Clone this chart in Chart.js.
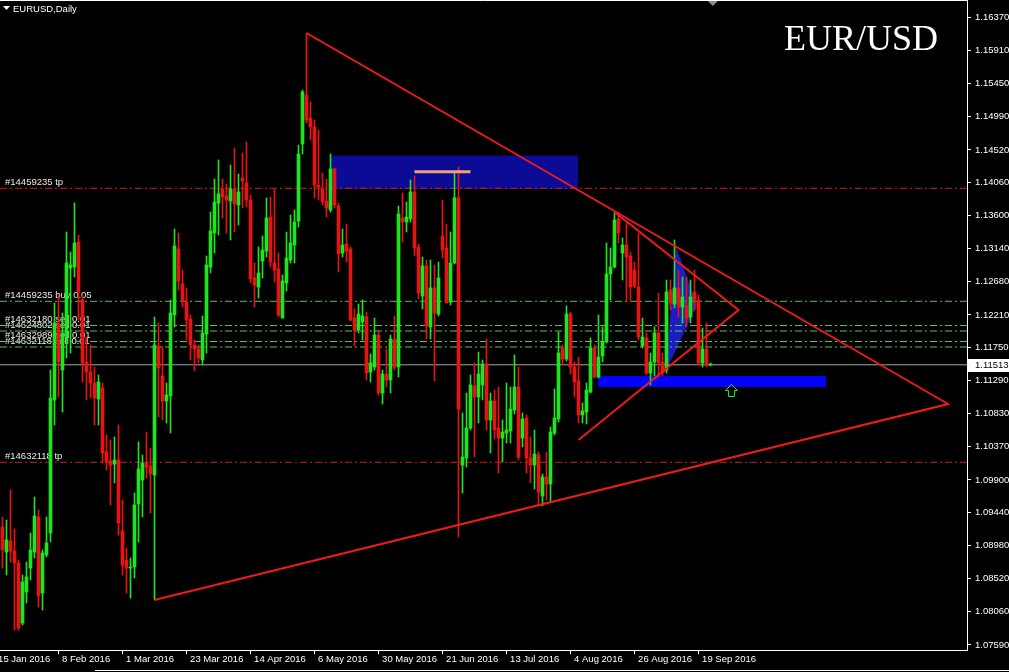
<!DOCTYPE html>
<html lang="en">
<head>
  <meta charset="UTF-8">
  <title>EURUSD,Daily</title>
  <style>
    html, body { margin: 0; padding: 0; background: #000; }
    #wrap { width: 1009px; height: 672px; }
  </style>
  <script src="https://cdn.jsdelivr.net/npm/chart.js@4"></script>
</head>
<body>
  <div id="wrap"><canvas id="chart" width="1009" height="672"></canvas></div>
  <script>
    // daily bars, first one is 18 Jan 2016
    const open = [
      1.09242, 1.08892, 1.09046, 1.08906, 1.08738, 1.07898, 1.08332, 1.08668, 1.08892, 1.09382,
      1.08318, 1.0885, 1.09158, 1.1102, 1.12098, 1.1144, 1.11902, 1.12868, 1.12882, 1.13232,
      1.1242, 1.11552, 1.11412, 1.11258, 1.11034, 1.11188, 1.10292, 1.10166, 1.10124, 1.1018,
      1.09186, 1.0878, 1.08668, 1.08682, 1.09564, 1.099, 1.10152, 1.10096, 1.0997, 1.11776,
      1.11356, 1.11006, 1.11076, 1.1221, 1.13134, 1.12644, 1.12392, 1.12154, 1.1179, 1.11734,
      1.1158, 1.11944, 1.12882, 1.13358, 1.13778, 1.13974, 1.13876, 1.13806, 1.13974, 1.1375,
      1.14128, 1.14058, 1.1382, 1.12728, 1.12602, 1.12966, 1.13106, 1.13582, 1.12938, 1.12854,
      1.12168, 1.12658, 1.1298, 1.1319, 1.13526, 1.14604, 1.1529, 1.14968, 1.14842, 1.1403,
      1.13974, 1.13806, 1.1368, 1.14254, 1.13736, 1.13078, 1.13204, 1.13134, 1.12168, 1.12,
      1.12112, 1.12182, 1.11412, 1.11482, 1.1193, 1.11118, 1.11384, 1.113, 1.11874, 1.11482,
      1.13568, 1.13512, 1.13554, 1.13932, 1.13162, 1.12476, 1.12896, 1.12042, 1.12588, 1.12224,
      1.13316, 1.13148, 1.12392, 1.12938, 1.1385, 1.1011, 1.10208, 1.10628, 1.11216, 1.11062,
      1.1123, 1.11524, 1.1074, 1.11006, 1.10628, 1.10488, 1.10558, 1.10586, 1.1088, 1.11202,
      1.10488, 1.10768, 1.10208, 1.1011, 1.1025, 1.09676, 1.09942, 1.09844, 1.10558, 1.10754,
      1.11748, 1.11594, 1.12224, 1.11482, 1.11286, 1.1081, 1.10852, 1.11132, 1.11748, 1.11342,
      1.11636, 1.11832, 1.12784, 1.12882, 1.13554, 1.13078, 1.1319, 1.13036, 1.1284, 1.12602,
      1.11776, 1.11888, 1.11398, 1.11552, 1.11958, 1.11552, 1.1144, 1.1256, 1.12364, 1.12588,
      1.12322, 1.12336, 1.12182, 1.12532, 1.1242, 1.11538, 1.11734, 1.1151
    ];
    const high = [
      1.09382, 1.0934, 1.0976, 1.09214, 1.0878, 1.0857, 1.08752, 1.09158, 1.09662, 1.0948,
      1.0892, 1.09382, 1.1144, 1.12378, 1.1249, 1.12238, 1.13372, 1.13092, 1.13778, 1.1333,
      1.1249, 1.11902, 1.1179, 1.11482, 1.1137, 1.11258, 1.1053, 1.1046, 1.10502, 1.1067,
      1.0962, 1.08948, 1.08808, 1.09718, 1.10432, 1.1025, 1.10572, 1.10348, 1.12182, 1.12098,
      1.11762, 1.11258, 1.1242, 1.13414, 1.13358, 1.1284, 1.12588, 1.1221, 1.1186, 1.1179,
      1.12196, 1.13036, 1.13652, 1.14114, 1.1438, 1.14114, 1.14044, 1.1431, 1.14548, 1.14184,
      1.14478, 1.14632, 1.1389, 1.12938, 1.13162, 1.13316, 1.13848, 1.13862, 1.13974, 1.13078,
      1.1277, 1.13372, 1.1361, 1.1368, 1.1459, 1.1536, 1.16158, 1.15192, 1.1494, 1.148,
      1.14198, 1.14114, 1.14464, 1.14268, 1.13778, 1.13414, 1.13484, 1.13162, 1.12294, 1.12364,
      1.1242, 1.12252, 1.11664, 1.12168, 1.12, 1.1144, 1.11734, 1.1193, 1.12196, 1.13736,
      1.13918, 1.13792, 1.141, 1.14156, 1.13204, 1.13022, 1.1298, 1.1298, 1.1291, 1.12952,
      1.1382, 1.13484, 1.13372, 1.14212, 1.14282, 1.10838, 1.11118, 1.1137, 1.11538, 1.11692,
      1.1158, 1.11874, 1.11118, 1.1116, 1.11202, 1.1074, 1.11258, 1.11202, 1.1165, 1.11482,
      1.10838, 1.1081, 1.10502, 1.106, 1.10292, 1.09984, 1.10292, 1.10642, 1.11174, 1.11972,
      1.1179, 1.12336, 1.12252, 1.11552, 1.11622, 1.10978, 1.11258, 1.11888, 1.1179, 1.1221,
      1.12042, 1.13218, 1.13148, 1.13652, 1.13652, 1.13288, 1.13498, 1.13092, 1.12952, 1.13358,
      1.12168, 1.11958, 1.11678, 1.12042, 1.12518, 1.11678, 1.127, 1.127, 1.1326, 1.1284,
      1.12742, 1.12742, 1.127, 1.1284, 1.1249, 1.12028, 1.12098, 1.11538
    ];
    const low = [
      1.08668, 1.0857, 1.08752, 1.078, 1.078, 1.0787, 1.08178, 1.085, 1.08808, 1.08122,
      1.0808, 1.08822, 1.09032, 1.1067, 1.11062, 1.10852, 1.11608, 1.11678, 1.12742, 1.1214,
      1.11272, 1.1102, 1.11048, 1.1067, 1.1067, 1.10138, 1.1004, 1.0955, 1.09858, 1.0913,
      1.0857, 1.08318, 1.08248, 1.08528, 1.09032, 1.09382, 1.09928, 1.09438, 1.0822, 1.10782,
      1.1074, 1.10698, 1.10558, 1.12042, 1.1256, 1.12322, 1.1186, 1.1158, 1.11426, 1.11538,
      1.1151, 1.11678, 1.12798, 1.13078, 1.1333, 1.13568, 1.13358, 1.1326, 1.13372, 1.1347,
      1.13708, 1.13722, 1.12658, 1.12322, 1.12448, 1.12728, 1.13022, 1.12882, 1.12672, 1.12182,
      1.12168, 1.12546, 1.12938, 1.12938, 1.13442, 1.14464, 1.14898, 1.1466, 1.13848, 1.1382,
      1.1375, 1.13582, 1.13652, 1.13708, 1.12812, 1.13022, 1.12952, 1.12126, 1.11776, 1.11958,
      1.1186, 1.113, 1.11272, 1.1144, 1.1109, 1.10964, 1.11202, 1.11118, 1.1144, 1.11342,
      1.13232, 1.13372, 1.13512, 1.13036, 1.12434, 1.12294, 1.11874, 1.11874, 1.11286, 1.12196,
      1.13008, 1.12378, 1.1235, 1.12924, 1.09102, 1.09718, 1.10082, 1.106, 1.10222, 1.10698,
      1.1102, 1.106, 1.10278, 1.10474, 1.09998, 1.10152, 1.10418, 1.10418, 1.10824, 1.1018,
      1.10362, 1.09998, 1.09858, 1.09774, 1.0955, 1.09536, 1.0962, 1.09592, 1.1053, 1.10712,
      1.1151, 1.11566, 1.11384, 1.11062, 1.10698, 1.10698, 1.10684, 1.11118, 1.11328, 1.11328,
      1.11552, 1.11818, 1.1242, 1.12868, 1.13218, 1.127, 1.12392, 1.1242, 1.12588, 1.1186,
      1.11748, 1.1137, 1.1123, 1.11356, 1.11342, 1.11356, 1.11398, 1.1228, 1.12308, 1.12182,
      1.12098, 1.12042, 1.12098, 1.1228, 1.1151, 1.11482, 1.11482, 1.11496
    ];
    const close = [
      1.0892, 1.0906, 1.08906, 1.08738, 1.07828, 1.08472, 1.08542, 1.0892, 1.09396, 1.08276,
      1.08878, 1.09018, 1.11048, 1.12098, 1.11552, 1.11958, 1.12938, 1.1291, 1.13218, 1.12532,
      1.11538, 1.11412, 1.11258, 1.11048, 1.11272, 1.10278, 1.10152, 1.1011, 1.1018, 1.09298,
      1.0871, 1.08668, 1.08682, 1.0955, 1.10054, 1.10138, 1.10082, 1.09984, 1.1179, 1.11468,
      1.11006, 1.1109, 1.12238, 1.13176, 1.12686, 1.12392, 1.1214, 1.1179, 1.11734, 1.11608,
      1.11958, 1.1291, 1.13386, 1.13792, 1.13904, 1.13862, 1.1382, 1.13974, 1.13764, 1.13932,
      1.14086, 1.1382, 1.12714, 1.1263, 1.12798, 1.1312, 1.13568, 1.12952, 1.1284, 1.1221,
      1.12686, 1.13008, 1.13218, 1.13512, 1.14464, 1.15332, 1.1494, 1.14842, 1.1403, 1.14002,
      1.13792, 1.13708, 1.14254, 1.1375, 1.13064, 1.1319, 1.13106, 1.1214, 1.12, 1.12224,
      1.12196, 1.11398, 1.11538, 1.1193, 1.11118, 1.11384, 1.113, 1.11874, 1.11482, 1.13624,
      1.13512, 1.13582, 1.13932, 1.13148, 1.12518, 1.12896, 1.12056, 1.12588, 1.12238, 1.12728,
      1.1312, 1.12378, 1.12938, 1.1385, 1.10894, 1.10222, 1.10628, 1.1123, 1.11062, 1.11384,
      1.11524, 1.1074, 1.11006, 1.106, 1.10488, 1.10572, 1.106, 1.10894, 1.11202, 1.10222,
      1.10754, 1.10208, 1.1011, 1.10264, 1.09732, 1.09942, 1.09844, 1.10572, 1.10768, 1.11678,
      1.11594, 1.12224, 1.11482, 1.11272, 1.1081, 1.10866, 1.1116, 1.11748, 1.11342, 1.11622,
      1.11832, 1.12784, 1.12882, 1.1354, 1.13358, 1.1319, 1.13022, 1.12602, 1.12616, 1.11902,
      1.11902, 1.11398, 1.11552, 1.11958, 1.11538, 1.11398, 1.12532, 1.12378, 1.12588, 1.12322,
      1.12462, 1.12168, 1.12462, 1.1242, 1.11538, 1.11734, 1.1151, 1.11513
    ];

    // time axis: bar number of each date label (bar 0 = 18 Jan 2016)
    const tickBars = [-1, 15, 31, 47, 63, 79, 95, 111, 127, 143, 159, 175];
    const tickLabels = ['15 Jan 2016', '8 Feb 2016', '1 Mar 2016', '23 Mar 2016', '14 Apr 2016', '6 May 2016',
      '30 May 2016', '21 Jun 2016', '13 Jul 2016', '4 Aug 2016', '26 Aug 2016', '19 Sep 2016'];
    const priceTicks = [1.16370, 1.15910, 1.15450, 1.14990, 1.14520, 1.14060, 1.13600, 1.13140, 1.12680, 1.12210,
      1.11750, 1.11290, 1.10830, 1.10370, 1.09900, 1.09440, 1.08980, 1.08520, 1.08060, 1.07590];
    const lastPrice = 1.11513;

    // open orders and their levels
    const orderPrices = [1.13984, 1.12402, 1.12063, 1.11986, 1.11839, 1.11762, 1.10148];
    const orderLabels = ['#14459235 tp', '#14459235 buy 0.05', '#14632180 sell 0.01', '#14624802 sell 0.01',
      '#14632989 sell 0.01', '#14632118 sell 0.01', '#14632118 tp'];
    const orderIsTp = [true, false, false, false, false, false, true];

    // hand drawn objects, [bar, price]
    const bigTriangle = [[76, 1.16158], [236.4, 1.10964], [38, 1.0822]];
    const smallTriangle = [[153, 1.13652], [184, 1.1228], [144, 1.1046]];
    const resistance = [[103, 1.14216], [117, 1.14216]];
    const blueWedge = [[168.4, 1.13162], [173.6, 1.1235], [165.75, 1.11412]];
    // zones: [fromBar, toBar, topPrice, bottomPrice]
    const supplyZone = [81.9, 143.9, 1.14443, 1.13974];
    const demandZone = [148.9, 205.9, 1.11356, 1.11202];
    const arrowAt = [182.1, 1.11244];

    const X_MIN = -0.625, X_MAX = 241.125;
    const Y_MIN = 1.0752, Y_MAX = 1.1662;
    const UP = '#1ee61e', DOWN = '#e61414';
    const FONT = 'Liberation Sans';

    const barColors = open.map((o, i) => close[i] >= o ? UP : DOWN);
    const toPts = arr => arr.map(([b, p]) => ({ x: b, y: p }));

    const datasets = [
      {
        type: 'bar', label: 'wicks', order: 2, grouped: false, barThickness: 1,
        data: open.map((o, i) => ({ x: i, y: [low[i], high[i]] })),
        backgroundColor: barColors
      },
      {
        type: 'bar', label: 'bodies', order: 1, grouped: false, barThickness: 3, minBarLength: 1,
        data: open.map((o, i) => ({ x: i, y: [o, close[i]] })),
        backgroundColor: barColors
      },
      {
        type: 'line', label: 'bid', order: 4, borderColor: '#a4a4ac', borderWidth: 1, pointRadius: 0,
        data: [{ x: X_MIN, y: lastPrice }, { x: X_MAX, y: lastPrice }]
      }
    ];
    orderPrices.forEach((p, i) => {
      datasets.push({
        type: 'line', label: orderLabels[i], order: 5, pointRadius: 0, borderWidth: 1,
        borderColor: orderIsTp[i] ? '#d21e1e' : '#5abe5a', borderDash: [7, 3, 2, 3],
        data: [{ x: X_MIN, y: p }, { x: X_MAX, y: p }]
      });
    });
    [bigTriangle, smallTriangle].forEach(t => {
      datasets.push({
        type: 'line', label: 'triangle', order: 0, pointRadius: 0, borderWidth: 2,
        borderColor: '#f01a1a', tension: 0, data: toPts(t)
      });
    });
    datasets.push({
      type: 'line', label: 'resistance', order: 0, pointRadius: 0, borderWidth: 3,
      borderColor: '#f0a078', data: toPts(resistance)
    });

    const mtObjects = {
      id: 'mtObjects',
      beforeDraw(chart) {
        const ctx = chart.ctx;
        ctx.save();
        ctx.fillStyle = '#000';
        ctx.fillRect(0, 0, chart.width, chart.height);
        ctx.restore();
      },
      beforeDatasetsDraw(chart) {
        const { ctx, chartArea: a, scales: { x, y } } = chart;
        ctx.save();
        ctx.beginPath();
        ctx.rect(a.left, a.top, a.right - a.left, a.bottom - a.top);
        ctx.clip();
        // zones
        [[supplyZone, '#0b0b96'], [demandZone, '#0000ff']].forEach(([z, col]) => {
          const x1 = x.getPixelForValue(z[0]), x2 = x.getPixelForValue(z[1]);
          const y1 = y.getPixelForValue(z[2]), y2 = y.getPixelForValue(z[3]);
          ctx.fillStyle = col;
          ctx.fillRect(x1, y1, x2 - x1, y2 - y1);
        });
        // filled wedge
        ctx.beginPath();
        blueWedge.forEach(([b, p], i) => {
          const px = x.getPixelForValue(b), py = y.getPixelForValue(p);
          if (i === 0) ctx.moveTo(px, py); else ctx.lineTo(px, py);
        });
        ctx.closePath();
        ctx.fillStyle = '#1c1cc4';
        ctx.fill();
        // order labels
        ctx.fillStyle = '#e8e8e8';
        ctx.font = '9.5px "' + FONT + '"';
        ctx.textBaseline = 'alphabetic';
        orderPrices.forEach((p, i) => {
          ctx.fillText(orderLabels[i], a.left + 5, Math.round(y.getPixelForValue(p)) - 3);
        });
        ctx.restore();
      },
      afterDatasetsDraw(chart) {
        const { ctx, scales: { x, y } } = chart;
        const ax = Math.round(x.getPixelForValue(arrowAt[0])) + 0.5;
        const ay = Math.round(y.getPixelForValue(arrowAt[1])) + 0.5;
        ctx.save();
        ctx.strokeStyle = UP;
        ctx.lineWidth = 1;
        ctx.beginPath();
        ctx.moveTo(ax, ay);
        ctx.lineTo(ax + 6, ay + 6);
        ctx.lineTo(ax + 3, ay + 6);
        ctx.lineTo(ax + 3, ay + 12);
        ctx.lineTo(ax - 3, ay + 12);
        ctx.lineTo(ax - 3, ay + 6);
        ctx.lineTo(ax - 6, ay + 6);
        ctx.closePath();
        ctx.stroke();
        ctx.restore();
      },
      afterDraw(chart) {
        const { ctx, chartArea: a, scales: { x, y } } = chart;
        ctx.save();
        // frame top and window bottom edge
        ctx.strokeStyle = '#fff';
        ctx.lineWidth = 1;
        ctx.beginPath();
        ctx.moveTo(0, a.top + 0.5);
        ctx.lineTo(a.right + 0.5, a.top + 0.5);
        ctx.moveTo(95, chart.height - 1.5);
        ctx.lineTo(chart.width, chart.height - 1.5);
        ctx.stroke();
        // bid price box on the axis
        const py = Math.round(y.getPixelForValue(lastPrice));
        ctx.fillStyle = '#fff';
        ctx.fillRect(a.right + 1, py - 6, chart.width - a.right - 1, 13);
        ctx.fillStyle = '#000';
        ctx.font = '9.5px "' + FONT + '"';
        ctx.textBaseline = 'middle';
        ctx.fillText(lastPrice.toFixed(5), a.right + 8, py + 0.5);
        // header
        ctx.fillStyle = '#fff';
        ctx.beginPath();
        ctx.moveTo(3, 6);
        ctx.lineTo(10, 6);
        ctx.lineTo(6.5, 10);
        ctx.closePath();
        ctx.fill();
        ctx.fillText('EURUSD,Daily', 13, 9);
        // chart shift marker
        const sx = x.getPixelForValue(177.6);
        ctx.fillStyle = '#8c8c8c';
        ctx.beginPath();
        ctx.moveTo(sx - 5, a.top + 1);
        ctx.lineTo(sx + 5, a.top + 1);
        ctx.lineTo(sx, a.top + 6);
        ctx.closePath();
        ctx.fill();
        // title
        ctx.fillStyle = '#fff';
        ctx.font = '36px "Liberation Serif"';
        ctx.textBaseline = 'alphabetic';
        ctx.fillText('EUR/USD', 784, 50);
        ctx.restore();
      }
    };

    const tickFont = { family: FONT, size: 9.5 };
    const TICK_SHIFT = -1.1; // MT4 puts the date separator a little left of the bar

    new Chart(document.getElementById('chart'), {
      type: 'bar',
      data: { datasets },
      options: {
        responsive: false,
        devicePixelRatio: 1,
        animation: false,
        layout: { padding: 0 },
        plugins: { legend: { display: false }, tooltip: { enabled: false } },
        scales: {
          x: {
            type: 'linear', min: X_MIN, max: X_MAX, offset: false,
            afterBuildTicks: s => { s.ticks = tickBars.map(b => ({ value: b + TICK_SHIFT })); },
            afterFit: s => { s.height = 22; s.paddingLeft = 0; s.paddingRight = 0; },
            ticks: {
              color: '#fff', font: tickFont, align: 'start', labelOffset: 4, padding: 0,
              maxRotation: 0, autoSkip: false, callback: (v, i) => tickLabels[i]
            },
            grid: { drawOnChartArea: false, drawTicks: true, tickLength: 4, color: '#fff', offset: false },
            border: { display: true, color: '#fff' }
          },
          y: {
            type: 'linear', position: 'right', min: Y_MIN, max: Y_MAX,
            afterBuildTicks: s => { s.ticks = priceTicks.map(v => ({ value: v })); },
            afterFit: s => { s.width = 42; s.paddingTop = 0; s.paddingBottom = 0; },
            ticks: { color: '#fff', font: tickFont, padding: 4, autoSkip: false, callback: v => v.toFixed(5) },
            grid: { drawOnChartArea: false, drawTicks: true, tickLength: 4, color: '#fff' },
            border: { display: true, color: '#fff' }
          }
        }
      },
      plugins: [mtObjects]
    });
  </script>
</body>
</html>
